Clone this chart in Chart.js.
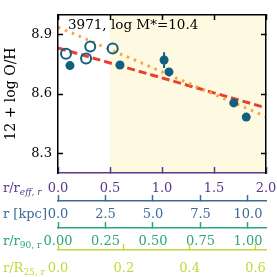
<!DOCTYPE html>
<html><head><meta charset="utf-8">
<script src="https://cdn.jsdelivr.net/npm/chart.js@4/dist/chart.umd.min.js"></script>
<style>html,body{margin:0;padding:0;background:#fff}#w{width:277px;height:277px}</style>
</head><body><div id="w"><canvas id="c"></canvas></div>
<script>
// ---- data ----
const galaxyLabel = "3971, log M*=10.4";
const yTitle = "12 + log O/H";
const yRange = [8.2, 9.0];
const yTicks = [8.3, 8.6, 8.9];
const reffRange = [0, 2.0];
const reffTicks = [0, 0.5, 1.0, 1.5, 2.0];
const kpcRange = [0, 10.95];
const kpcTicks = [0, 2.5, 5.0, 7.5, 10.0];
const r90Range = [0, 1.095];
const r90Ticks = [0, 0.25, 0.5, 0.75, 1.0];
const r25Range = [0, 0.632];
const r25Ticks = [0, 0.2, 0.4, 0.6];
const shadeRange = [0.5, 2.0];
const openX = [0.077, 0.27, 0.31, 0.526];
const openY = [8.804, 8.78, 8.84, 8.83];
const filledX = [0.115, 0.596, 1.02, 1.067, 1.69, 1.81];
const filledY = [8.744, 8.747, 8.772, 8.712, 8.555, 8.483];
const filledErr = [0.02, 0.01, 0.04, 0.015, 0.01, 0.01];
const fitRedX = [0, 2.0];
const fitRedY = [8.833, 8.53];
const fitOrangeX = [0, 2.0];
const fitOrangeY = [8.939, 8.485];

// ---- styling ----
const SERIF = "'DejaVu Serif', serif";
const PURPLE = '#58398c', BLUE = '#3e6a98', GREEN = '#2ea57b', LIME = '#c3d83a';
const PT = '#10607f';

const pts = (xs, ys) => xs.map((x, i) => ({x, y: ys[i]}));
const errData = [];
filledX.forEach((x, i) => {
  errData.push({x, y: filledY[i] - filledErr[i]});
  errData.push({x, y: filledY[i] + filledErr[i]});
  errData.push({x, y: null});
});

const fixedTicks = arr => s => { s.ticks = arr.map(v => ({value: v})); };
const font = {family: SERIF, size: 13};
const fitTo = (prop, val) => s => { s[prop] = val; s.paddingLeft = 0; s.paddingRight = 0; s.paddingTop = 0; s.paddingBottom = 0; };

function bottomAxis(range, ticks, color, digits, weight, height, pad) {
  return {
    type: 'linear', position: 'bottom', weight,
    min: range[0], max: range[1],
    afterBuildTicks: fixedTicks(ticks),
    afterFit: fitTo('height', height),
    border: {display: true, color, width: 1.5, z: 2},
    grid: {display: true, drawOnChartArea: false, drawTicks: true, tickLength: -6, color, tickWidth: 1.5, z: 2},
    ticks: {color, font, padding: pad, maxRotation: 0, autoSkip: false, callback: v => Number(v).toFixed(digits)}
  };
}

const sideLabels = [
  {axis: 'x', main: 'r/r', sub: 'eff, r', italicSub: true, color: PURPLE},
  {axis: 'xk', main: 'r [kpc]', sub: '', color: BLUE},
  {axis: 'x90', main: 'r/r', sub: '90, r', color: GREEN},
  {axis: 'x25', main: 'r/R', sub: '25, r', color: LIME}
];

const annot = {
  id: 'annot',
  afterDraw(chart) {
    const ctx = chart.ctx, a = chart.chartArea;
    ctx.save();
    ctx.fillStyle = '#000';
    ctx.font = '13.5px ' + SERIF;
    ctx.textBaseline = 'middle';
    ctx.textAlign = 'left';
    ctx.fillText(galaxyLabel, a.left + 10, a.top + 10.5);
    sideLabels.forEach(l => {
      const s = chart.scales[l.axis];
      const y = s.top + s.options.grid.tickLength + s.options.ticks.padding + 7.8;
      ctx.fillStyle = l.color;
      ctx.font = '13px ' + SERIF;
      ctx.fillText(l.main, 3, y);
      if (l.sub) {
        const w = ctx.measureText(l.main).width;
        ctx.font = (l.italicSub ? 'italic ' : '') + '9px ' + SERIF;
        ctx.fillText(l.sub, 3 + w, y + 4);
      }
    });
    ctx.restore();
  }
};

const frameAxis = (extra) => Object.assign({
  border: {display: true, color: '#000', width: 1.5, z: 2},
  grid: {display: true, drawOnChartArea: false, tickLength: -5, color: '#000', tickWidth: 1.5, z: 2}
}, extra);

new Chart(document.getElementById('c'), {
  type: 'scatter',
  data: {
    datasets: [
      {type: 'line', data: pts(shadeRange, [yRange[1], yRange[1]]), fill: 'start',
       backgroundColor: '#fef9e1', borderWidth: 0, pointRadius: 0, order: 10},
      {type: 'line', data: pts(fitRedX, fitRedY), borderColor: '#e8402c', borderWidth: 3,
       borderDash: [8, 4], pointRadius: 0, fill: false, order: 6},
      {type: 'line', data: pts(fitOrangeX, fitOrangeY), borderColor: '#f8a53f', borderWidth: 3,
       borderDash: [2.5, 5], borderCapStyle: 'butt', pointRadius: 0, fill: false, order: 5},
      {type: 'line', data: errData, borderColor: PT, borderWidth: 2, pointRadius: 0,
       spanGaps: false, fill: false, order: 3},
      {data: pts(openX, openY), pointRadius: 5, pointBorderWidth: 2, borderColor: PT,
       backgroundColor: 'rgba(0,0,0,0)', pointBackgroundColor: 'rgba(0,0,0,0)', order: 1},
      {data: pts(filledX, filledY), pointRadius: 4.5, pointBorderWidth: 0, borderColor: PT,
       backgroundColor: PT, order: 1}
    ]
  },
  options: {
    responsive: true, maintainAspectRatio: false, animation: false,
    layout: {padding: {left: 0, right: 11, top: 0, bottom: 0}},
    plugins: {legend: {display: false}, tooltip: {enabled: false}},
    scales: {
      x: bottomAxis(reffRange, reffTicks, PURPLE, 1, 0, 28, 14),
      xk: bottomAxis(kpcRange, kpcTicks, BLUE, 1, 1, 27, 12),
      x90: bottomAxis(r90Range, r90Ticks, GREEN, 2, 2, 22, 12),
      x25: bottomAxis(r25Range, r25Ticks, LIME, 1, 3, 27, 17),
      xt: frameAxis({
        type: 'linear', position: 'top', min: reffRange[0], max: reffRange[1],
        afterBuildTicks: fixedTicks(reffTicks),
        afterFit: fitTo('height', 15),
        ticks: {display: true, color: 'rgba(0,0,0,0)', callback: () => ''}
      }),
      y: frameAxis({
        type: 'linear', position: 'left', min: yRange[0], max: yRange[1],
        afterBuildTicks: fixedTicks(yTicks),
        afterFit: fitTo('width', 58),
        ticks: {color: '#000', font, padding: 11, callback: v => Number(v).toFixed(1)},
        title: {display: true, text: yTitle, color: '#000', font: {family: SERIF, size: 14}, padding: {top: 3, bottom: 0}}
      }),
      yr: frameAxis({
        type: 'linear', position: 'right', min: yRange[0], max: yRange[1],
        afterBuildTicks: fixedTicks(yTicks),
        afterFit: fitTo('width', 0),
        ticks: {display: true, color: 'rgba(0,0,0,0)', callback: () => ''}
      })
    }
  },
  plugins: [annot]
});
</script>
</body></html>
